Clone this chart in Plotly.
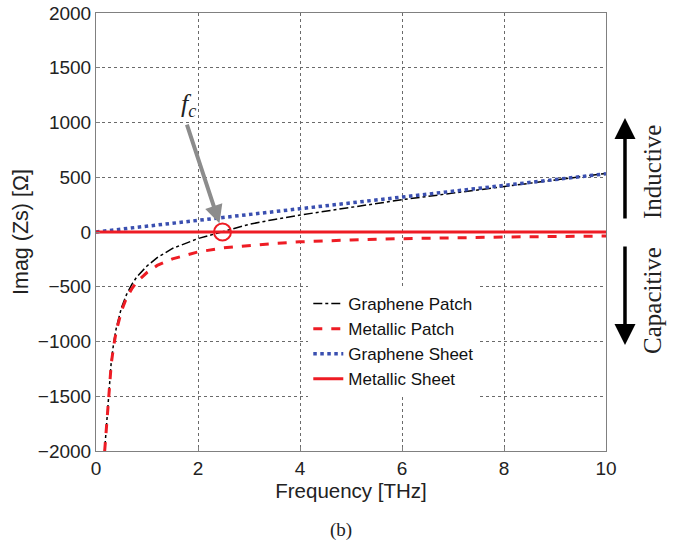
import plotly.graph_objects as go

# Frequency samples [THz]
freq = [0.17, 0.2, 0.25, 0.3, 0.35, 0.4, 0.5, 0.6, 0.7, 0.8, 1.0, 1.2, 1.5,
        2.0, 2.5, 3.0, 3.5, 4.0, 5.0, 6.0, 7.0, 8.0, 9.0, 10.0]

graphene_patch = [-1990, -1780, -1450, -1180, -1000, -870, -690, -570, -480, -410,
                  -310, -235, -150, -60, 5, 70, 115, 155, 225, 295, 355, 415, 475, 535]
metallic_patch = [-2000, -1800, -1480, -1200, -1030, -900, -720, -600, -520, -455,
                  -370, -305, -245, -182, -145, -122, -104, -90, -72, -61, -52, -46, -41, -37]

sheet_freq = [0, 1, 2, 3, 4, 5, 6, 7, 8, 9, 10]
graphene_sheet = [0, 54, 108, 162, 215, 268, 320, 373, 427, 480, 532]
metallic_sheet = [0, 0, 0, 0, 0, 0, 0, 0, 0, 0, 0]

fc = [2.48]
fc_val = [0]

x_ticks = [0, 2, 4, 6, 8, 10]
y_ticks = [-2000, -1500, -1000, -500, 0, 500, 1000, 1500, 2000]

RED = "#ee1c24"
BLUE = "#3a4fb0"
SANS = "Liberation Sans, Arial"
SERIF = "Liberation Serif, Times New Roman"

L, R, T, B = 95.5, 76, 13, 96
W, H = 682, 547
PW, PH = W - L - R, H - T - B


def px(xp):
    return (xp - L) / PW


def py(yp):
    return (H - B - yp) / PH


fig = go.Figure()
fig.add_trace(go.Scatter(x=freq, y=graphene_patch, mode="lines", name="Graphene Patch",
                         line=dict(color="black", width=1.5, dash="dashdot")))
fig.add_trace(go.Scatter(x=freq, y=metallic_patch, mode="lines", name="Metallic Patch",
                         line=dict(color=RED, width=3, dash="dash")))
fig.add_trace(go.Scatter(x=sheet_freq, y=graphene_sheet, mode="lines", name="Graphene Sheet",
                         line=dict(color=BLUE, width=3.5, dash="dot")))
fig.add_trace(go.Scatter(x=sheet_freq, y=metallic_sheet, mode="lines", name="Metallic Sheet",
                         line=dict(color=RED, width=3)))
fig.add_trace(go.Scatter(x=fc, y=fc_val, mode="markers", showlegend=False,
                         marker=dict(symbol="circle-open", size=17, color=RED,
                                     line=dict(width=2, color=RED))))

axis_common = dict(showline=True, linecolor="#808080", linewidth=1, mirror=True,
                   showgrid=True, gridcolor="#6a6a6a", gridwidth=1, griddash="dot",
                   zeroline=False, ticks="inside", ticklen=4, tickcolor="#808080",
                   automargin=False,
                   tickfont=dict(family=SANS, size=19, color="#222"))

fig.update_xaxes(range=[0, 10], tickvals=x_ticks, **axis_common,
                 title=dict(text="Frequency [THz]", standoff=4,
                            font=dict(family=SANS, size=20.5, color="#222")))
fig.update_yaxes(range=[-2000, 2000], tickvals=y_ticks, **axis_common,
                 title=dict(text="Imag (Zs) [Ω]", standoff=3,
                            font=dict(family=SANS, size=21.5, color="#222")))

# f_c arrow and label
fig.add_annotation(x=2.42, y=80, ax=-33, ay=-100, xref="x", yref="y",
                   showarrow=True, arrowhead=2, arrowsize=0.9, arrowwidth=4,
                   arrowcolor="#8c8c8c", text="")
fig.add_annotation(x=1.81, y=1160, xref="x", yref="y", showarrow=False,
                   xanchor="center", yanchor="middle",
                   text="<i>f<sub>c</sub></i>",
                   font=dict(family=SERIF, size=26, color="#222"))

# Inductive / Capacitive
fig.add_annotation(xref="paper", yref="paper", x=px(625), y=py(118),
                   ax=0, ay=102, showarrow=True, arrowhead=2, arrowsize=1.2, arrowwidth=3.5,
                   arrowcolor="black", text="")
fig.add_annotation(xref="paper", yref="paper", x=px(625), y=py(345),
                   ax=0, ay=-100, showarrow=True, arrowhead=2, arrowsize=1.2, arrowwidth=3.5,
                   arrowcolor="black", text="")
fig.add_annotation(xref="paper", yref="paper", x=px(652), y=py(172),
                   xanchor="center", yanchor="middle",
                   showarrow=False, textangle=-90, text="Inductive",
                   font=dict(family=SERIF, size=25, color="#222"))
fig.add_annotation(xref="paper", yref="paper", x=px(652), y=py(300),
                   xanchor="center", yanchor="middle",
                   showarrow=False, textangle=-90, text="Capacitive",
                   font=dict(family=SERIF, size=25, color="#222"))

# (b) caption
fig.add_annotation(xref="paper", yref="paper", x=px(341), y=py(530),
                   xanchor="center", yanchor="middle",
                   showarrow=False, text="(b)",
                   font=dict(family=SERIF, size=19, color="#222"))

fig.update_layout(
    width=W, height=H,
    margin=dict(l=L, r=R, t=T, b=B, autoexpand=False),
    paper_bgcolor="white", plot_bgcolor="white",
    showlegend=True,
    legend=dict(x=px(308), y=py(286), xanchor="left", yanchor="top",
                bgcolor="white", borderwidth=0, tracegroupgap=0,
                font=dict(family=SANS, size=17, color="#111")),
)

fig.write_html("out.html")
